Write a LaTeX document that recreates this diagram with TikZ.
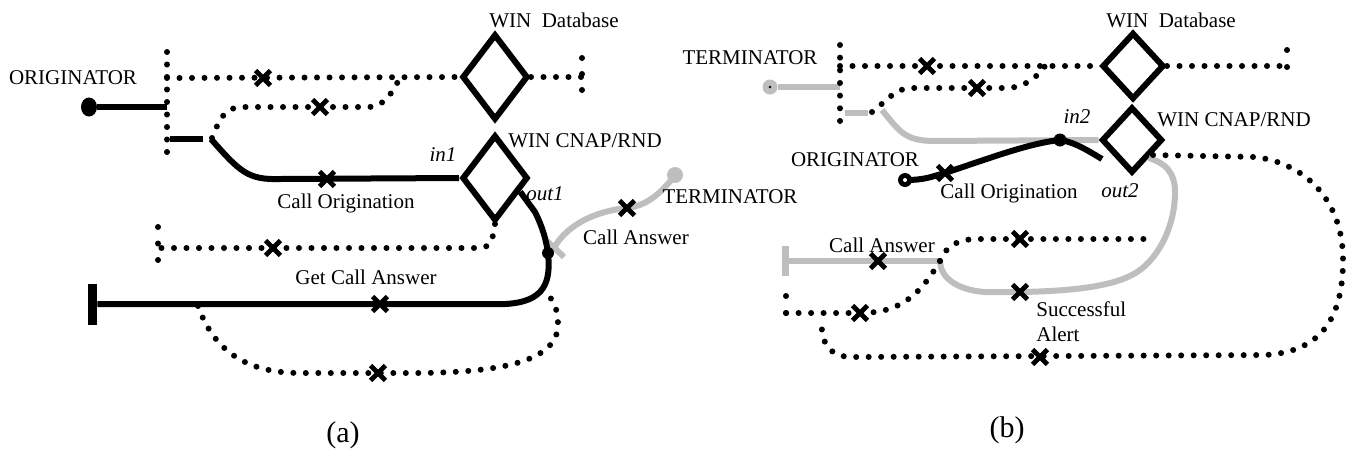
\documentclass[tikz,border=0pt]{standalone}
\usepackage{fontspec}
\setmainfont{Liberation Serif}
\usetikzlibrary{shapes.geometric,shapes.misc,calc}
\definecolor{lgrey}{RGB}{190,190,190}
\begin{document}
\begin{tikzpicture}[x=0.5pt,y=-0.5pt,
  lbl/.style={font=\fontsize{10.5}{12.5}\selectfont, inner sep=0pt},
  ilbl/.style={font=\fontsize{10.5}{12.5}\selectfont\itshape, inner sep=0pt},
  panel/.style={font=\fontsize{15}{17}\selectfont, inner sep=0pt},
  solidline/.style={line width=3pt},
  greyline/.style={line width=3pt, draw=lgrey},
  dotline/.style={line width=3pt, line cap=round, dash pattern=on 0pt off 6.25pt},
  xmark/.style={draw, cross out, line width=2.4pt, minimum size=5pt, inner sep=0pt},
  switch/.style={draw, diamond, line width=3pt, inner sep=0pt},
  blob/.style={circle, fill, inner sep=0pt},
]
\useasboundingbox (0,0) rectangle (1347,451);

% ================= panel (a) =================
\node[switch, minimum width=33pt, minimum height=43pt] (dbA) at (495,77) {};
\node[lbl] (dbAl) at (554,20) {WIN\ \ Database};
\node[switch, minimum width=33pt, minimum height=43pt] (cnapA) at (495,178) {};
\node[lbl] (cnapAl) at (585,141) {WIN CNAP/RND};
\node[ilbl] (in1) at (443,155) {in1};
\node[ilbl] (out1) at (545,194) {out1};

% originator and its access bus
\node[lbl] (origAl) at (73,78) {ORIGINATOR};
\node[fill, ellipse, minimum width=8pt, minimum height=9.5pt, inner sep=0pt] (origA) at (89,107) {};
\coordinate (busA) at (167,107);
\draw[solidline] (origA) -- (busA);
\coordinate (busAtop) at (167,52);
\coordinate (busAbot) at (167,152);
\draw[dotline] (busAtop) -- (busAbot);

% query to the database
\coordinate (topA) at (167,78);
\draw[dotline] (topA) -- (dbA.west);
\node[xmark] (xa1) at (263,78) {};
\coordinate (endA) at (582,77);
\draw[dotline] (dbA.east) -- (endA);
\draw[dotline, dash pattern=on 0pt off 8pt] (582,58) -- (582,90);

% branch from the bus back up to the query line
\coordinate (brA) at (212,138);
\draw[dotline] (brA) .. controls (222,112) and (228,107) .. (245,107) -- (368,107)
  .. controls (385,107) and (392,92) .. (400,78);
\node[xmark] (xa2) at (320,107) {};

% call origination into in1
\coordinate (stubA1) at (170,139);
\coordinate (stubA2) at (203,139);
\draw[solidline] (stubA1) -- (stubA2);
\coordinate (coA) at (211,139);
\draw[solidline] (coA) .. controls (240,172) and (248,180) .. (280,179) -- (cnapA.west);
\node[xmark] (xa3) at (327,179) {};
\node[lbl] (coAl) at (346,203) {Call Origination};

% terminator side
\node[fill=lgrey, circle, minimum size=8pt, inner sep=0pt] (termA) at (675,175) {};
\draw[greyline] (termA.center) .. controls (660,195) and (645,206) .. (627,208)
  .. controls (595,211) and (568,225) .. (555,246);
\draw[greyline] (547,241) -- (564,257);
\node[xmark] (xa4) at (627,208) {};
\node[lbl] (termAl) at (730,197) {TERMINATOR};
\node[lbl] (caAl) at (636,237) {Call Answer};

% out1 leg down to the blocked end
\node[fill, minimum width=4.5pt, minimum height=20.5pt, inner sep=0pt] (tbarA) at (92.5,304) {};
\coordinate (o1) at ($(cnapA.east)!0.3!(cnapA.south)$);
\coordinate (jA) at (548,253);
\draw[solidline] (o1) -- (535,212) .. controls (543,228) and (546,240) .. (jA)
  .. controls (551,282) and (545,302) .. (505,304) -- (tbarA.east);
\node[blob, minimum size=6pt] (jdotA) at (jA) {};
\node[xmark] (xa5) at (380,304) {};
\node[lbl] (gcaAl) at (366,277) {Get Call Answer};

% return path from the switch
\coordinate (retA) at (158,248);
\draw[dotline] (cnapA.south) -- (493,232) .. controls (493,244) and (488,248) .. (476,248) -- (retA);
\draw[dotline, dash pattern=on 0pt off 8.25pt] (158,227) -- (158,260);
\node[xmark] (xa6) at (273,248) {};

% loop below the answer leg
\coordinate (lpA1) at (198,306);
\coordinate (lpA2) at (549,296);
\draw[dotline] (lpA1) .. controls (212,345) and (240,373) .. (300,373) -- (420,373)
  .. controls (500,372) and (557,362) .. (558,325) .. controls (558,310) and (554,302) .. (lpA2);
\node[xmark] (xa7) at (378,373) {};

\node[panel] (capA) at (343,435) {(a)};

% ================= panel (b) =================
\node[switch, minimum width=31pt, minimum height=33.5pt] (dbB) at (1133,66) {};
\node[switch, minimum width=30.5pt, minimum height=33pt] (cnapB) at (1132,140) {};
\node[lbl] (dbBl) at (1171,20) {WIN\ \ Database};
\node[lbl] (cnapBl) at (1234,120) {WIN CNAP/RND};
\node[ilbl] (in2) at (1077,117) {in2};
\node[ilbl] (out2) at (1120,191) {out2};

% terminator and its access bus
\node[lbl] (termBl) at (750,58) {TERMINATOR};
\node[fill=lgrey, circle, minimum size=7.5pt, inner sep=0pt] (termB) at (770,87) {};
\node[blob, minimum size=1.4pt] (termBc) at (770,87) {};
\coordinate (busB) at (840,87);
\draw[greyline] (termB) -- (busB);
\coordinate (busBtop) at (840,45);
\coordinate (busBbot) at (840,121);
\draw[dotline, dash pattern=on 0pt off 6.33pt] (busBtop) -- (busBbot);

% query to the database
\coordinate (topB) at (840,66);
\draw[dotline] (topB) -- (dbB.west);
\node[xmark] (xb1) at (927,66) {};
\coordinate (endB) at (1287,66);
\draw[dotline] (dbB.east) -- (endB);
\draw[dotline, dash pattern=on 0pt off 8.5pt] (1287,50) -- (1287,67);

\coordinate (brB) at (872,112);
\draw[dotline] (brB) .. controls (888,100) and (895,88) .. (912,88) -- (1005,88)
  .. controls (1022,88) and (1035,80) .. (1045,66);
\node[xmark] (xb2) at (977,88) {};

% terminating leg into in2
\coordinate (stubB1) at (845,113);
\coordinate (stubB2) at (868,113);
\draw[greyline] (stubB1) -- (stubB2);
\coordinate (ctB) at (882,110);
\draw[greyline] (ctB) .. controls (900,132) and (905,141) .. (935,141) -- (cnapB.west);

% originator
\coordinate (inB) at (1060,140);
\coordinate (coBend) at (1102,159);
\node[blob, minimum size=7pt] (origB) at (905,180) {};
\draw[solidline] (origB.center) .. controls (925,180) and (930,177) .. (945,173)
  .. controls (990,158) and (1030,143) .. (inB) .. controls (1075,142) and (1090,152) .. (coBend);
\node[circle, fill=white, minimum size=2pt, inner sep=0pt] (origBc) at (905,180) {};
\node[blob, minimum size=6.5pt] (indotB) at (inB) {};
\node[xmark] (xb3) at (945,173) {};
\node[lbl] (origBl) at (855,160) {ORIGINATOR};
\node[lbl] (coBl) at (1009,193) {Call Origination};

% out2 loop back to the answer junction
\coordinate (jB) at (940,261);
\coordinate (o2) at ($(cnapB.east)!0.5!(cnapB.south)$);
\draw[greyline] (o2) .. controls (1165,163) and (1175,172) .. (1175,192)
  .. controls (1175,225) and (1160,255) .. (1140,270) .. controls (1120,285) and (1080,291) .. (1020,292)
  -- (985,292) .. controls (955,290) and (940,276) .. (jB);
\node[xmark] (xb4) at (1020,292) {};
\node[lbl, align=left, anchor=west] (saBl) at (1036,322) {Successful\\Alert};

% call answer to the blocked end
\node[fill=lgrey, minimum width=3.5pt, minimum height=15pt, inner sep=0pt] (tbarB) at (785,261) {};
\draw[greyline] (tbarB.east) -- (jB);
\node[xmark] (xb5) at (878,261) {};
\node[lbl] (caBl) at (882,245) {Call Answer};

% signalling around the answer junction
\coordinate (upB) at (1155,239);
\draw[dotline] (jB) .. controls (945,248) and (955,240) .. (975,239) -- (upB);
\node[xmark] (xb6) at (1020,239) {};
\coordinate (loB) at (786,313);
\draw[dotline] (jB) .. controls (920,295) and (900,313) .. (860,313) -- (loB);
\draw[dotline, dash pattern=on 0pt off 8.5pt] (786,296) -- (786,313);
\node[xmark] (xb7) at (860,313) {};

% large loop from out2
\coordinate (o2d) at (1153,155);
\coordinate (lpB) at (822,317);
\draw[dotline] (o2d) -- (1255,157) .. controls (1305,163) and (1343,200) .. (1343,260)
  .. controls (1343,322) and (1318,352) .. (1265,355) -- (850,357)
  .. controls (826,356) and (820,338) .. (lpB);
\node[xmark] (xb8) at (1040,357) {};

\node[panel] (capB) at (1007,430) {(b)};
\end{tikzpicture}
\end{document}
